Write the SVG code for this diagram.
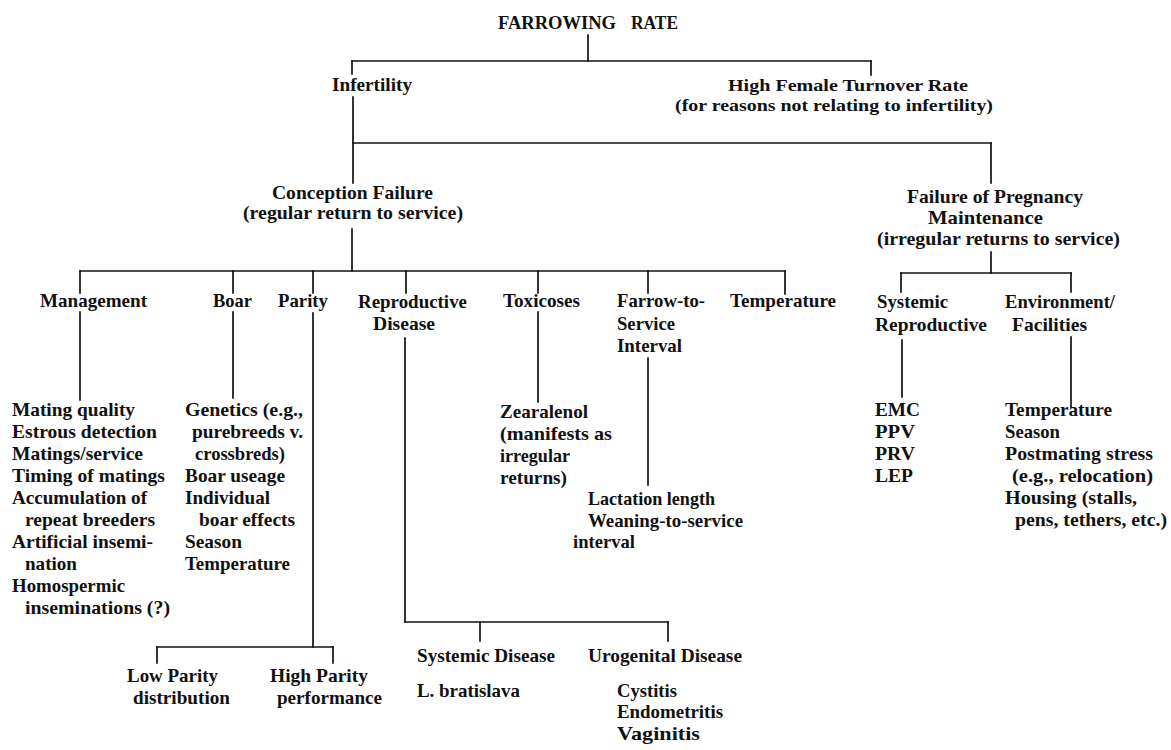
<svg xmlns="http://www.w3.org/2000/svg" width="1171" height="750" viewBox="0 0 1171 750">
<style>
text{font-family:"Liberation Serif","Times New Roman",serif;font-size:19px;font-weight:bold;fill:#111}
.h{font-size:19px}
.s{font-size:17px}
#connectors line{stroke:#111;stroke-width:1.7;stroke-linecap:square}
</style>
<rect width="1171" height="750" fill="#fff"/>
<g id="connectors">
<line x1="588" y1="35" x2="588" y2="61"/>
<line x1="352" y1="61" x2="871" y2="61"/>
<line x1="352" y1="61" x2="352" y2="74"/>
<line x1="871" y1="61" x2="871" y2="75"/>
<line x1="353" y1="97" x2="353" y2="183"/>
<line x1="353" y1="143" x2="991" y2="143"/>
<line x1="991" y1="143" x2="991" y2="183"/>
<line x1="352" y1="229" x2="352" y2="271"/>
<line x1="80" y1="271" x2="785" y2="271"/>
<line x1="80" y1="271" x2="80" y2="293"/>
<line x1="80" y1="312" x2="80" y2="400"/>
<line x1="233" y1="271" x2="233" y2="293"/>
<line x1="233" y1="312" x2="233" y2="398"/>
<line x1="313" y1="271" x2="313" y2="293"/>
<line x1="313" y1="313" x2="313" y2="647"/>
<line x1="406" y1="271" x2="406" y2="293"/>
<line x1="405" y1="338" x2="405" y2="622"/>
<line x1="538" y1="271" x2="538" y2="293"/>
<line x1="538" y1="312" x2="538" y2="402"/>
<line x1="648" y1="271" x2="648" y2="293"/>
<line x1="648" y1="358" x2="648" y2="485"/>
<line x1="785" y1="271" x2="785" y2="294"/>
<line x1="157" y1="647" x2="333" y2="647"/>
<line x1="157" y1="647" x2="157" y2="663"/>
<line x1="333" y1="647" x2="333" y2="663"/>
<line x1="405" y1="622" x2="668" y2="622"/>
<line x1="480" y1="622" x2="480" y2="641"/>
<line x1="668" y1="622" x2="668" y2="641"/>
<line x1="991" y1="252" x2="991" y2="273"/>
<line x1="901" y1="273" x2="1071" y2="273"/>
<line x1="901" y1="273" x2="901" y2="292"/>
<line x1="1071" y1="273" x2="1071" y2="292"/>
<line x1="902" y1="340" x2="902" y2="397"/>
<line x1="1071" y1="337" x2="1071" y2="407"/>
</g>
<g id="farrowing-rate">
<text class="h" x="498" y="29" textLength="118" lengthAdjust="spacingAndGlyphs">FARROWING</text>
<text class="h" x="631" y="29" textLength="47" lengthAdjust="spacingAndGlyphs">RATE</text>
</g>
<g id="infertility"><text x="332" y="91" textLength="80" lengthAdjust="spacingAndGlyphs">Infertility</text></g>
<g id="high-female-turnover">
<text class="s" x="728" y="91" textLength="240" lengthAdjust="spacingAndGlyphs">High Female Turnover Rate</text>
<text class="s" x="675" y="111" textLength="318" lengthAdjust="spacingAndGlyphs">(for reasons not relating to infertility)</text>
</g>
<g id="conception-failure">
<text x="272" y="199" textLength="161" lengthAdjust="spacingAndGlyphs">Conception Failure</text>
<text x="243" y="219" textLength="220" lengthAdjust="spacingAndGlyphs">(regular return to service)</text>
</g>
<g id="failure-pregnancy">
<text x="907" y="203" textLength="176" lengthAdjust="spacingAndGlyphs">Failure of Pregnancy</text>
<text x="928" y="224" textLength="115" lengthAdjust="spacingAndGlyphs">Maintenance</text>
<text x="877" y="245" textLength="243" lengthAdjust="spacingAndGlyphs">(irregular returns to service)</text>
</g>
<g id="management">
<text x="40" y="307" textLength="107" lengthAdjust="spacingAndGlyphs">Management</text>
</g>
<g id="management-list">
<text x="12" y="416" textLength="123" lengthAdjust="spacingAndGlyphs">Mating quality</text>
<text x="12" y="438" textLength="145" lengthAdjust="spacingAndGlyphs">Estrous detection</text>
<text x="12" y="460" textLength="131" lengthAdjust="spacingAndGlyphs">Matings/service</text>
<text x="12" y="482" textLength="153" lengthAdjust="spacingAndGlyphs">Timing of matings</text>
<text x="12" y="504" textLength="135" lengthAdjust="spacingAndGlyphs">Accumulation of</text>
<text x="25" y="526" textLength="130" lengthAdjust="spacingAndGlyphs">repeat breeders</text>
<text x="12" y="548" textLength="141" lengthAdjust="spacingAndGlyphs">Artificial insemi-</text>
<text x="25" y="570" textLength="52" lengthAdjust="spacingAndGlyphs">nation</text>
<text x="12" y="592" textLength="113" lengthAdjust="spacingAndGlyphs">Homospermic</text>
<text x="25" y="614" textLength="145" lengthAdjust="spacingAndGlyphs">inseminations (?)</text>
</g>
<g id="boar"><text x="213" y="307" textLength="39" lengthAdjust="spacingAndGlyphs">Boar</text></g>
<g id="boar-list">
<text x="185" y="416" textLength="118" lengthAdjust="spacingAndGlyphs">Genetics (e.g.,</text>
<text x="192" y="438" textLength="111" lengthAdjust="spacingAndGlyphs">purebreeds v.</text>
<text x="195" y="460" textLength="90" lengthAdjust="spacingAndGlyphs">crossbreds)</text>
<text x="185" y="482" textLength="100" lengthAdjust="spacingAndGlyphs">Boar useage</text>
<text x="185" y="504" textLength="85" lengthAdjust="spacingAndGlyphs">Individual</text>
<text x="199" y="526" textLength="96" lengthAdjust="spacingAndGlyphs">boar effects</text>
<text x="185" y="548" textLength="57" lengthAdjust="spacingAndGlyphs">Season</text>
<text x="185" y="570" textLength="105" lengthAdjust="spacingAndGlyphs">Temperature</text>
</g>
<g id="parity"><text x="278" y="307" textLength="50" lengthAdjust="spacingAndGlyphs">Parity</text></g>
<g id="low-parity">
<text x="127" y="682" textLength="91" lengthAdjust="spacingAndGlyphs">Low Parity</text>
<text x="133" y="704" textLength="97" lengthAdjust="spacingAndGlyphs">distribution</text>
</g>
<g id="high-parity">
<text x="270" y="682" textLength="98" lengthAdjust="spacingAndGlyphs">High Parity</text>
<text x="277" y="704" textLength="105" lengthAdjust="spacingAndGlyphs">performance</text>
</g>
<g id="reproductive-disease">
<text x="358" y="308" textLength="109" lengthAdjust="spacingAndGlyphs">Reproductive</text>
<text x="373" y="330" textLength="62" lengthAdjust="spacingAndGlyphs">Disease</text>
</g>
<g id="systemic-disease">
<text x="417" y="662" textLength="138" lengthAdjust="spacingAndGlyphs">Systemic Disease</text>
<text x="417" y="697" textLength="103" lengthAdjust="spacingAndGlyphs">L. bratislava</text>
</g>
<g id="urogenital-disease">
<text x="588" y="662" textLength="154" lengthAdjust="spacingAndGlyphs">Urogenital Disease</text>
<text x="617" y="697" textLength="60" lengthAdjust="spacingAndGlyphs">Cystitis</text>
<text x="617" y="718" textLength="106" lengthAdjust="spacingAndGlyphs">Endometritis</text>
<text x="617" y="740" textLength="83" lengthAdjust="spacingAndGlyphs">Vaginitis</text>
</g>
<g id="toxicoses">
<text x="503" y="307" textLength="77" lengthAdjust="spacingAndGlyphs">Toxicoses</text>
</g>
<g id="zearalenol">
<text x="500" y="418" textLength="88" lengthAdjust="spacingAndGlyphs">Zearalenol</text>
<text x="500" y="440" textLength="112" lengthAdjust="spacingAndGlyphs">(manifests as</text>
<text x="500" y="462" textLength="70" lengthAdjust="spacingAndGlyphs">irregular</text>
<text x="500" y="484" textLength="67" lengthAdjust="spacingAndGlyphs">returns)</text>
</g>
<g id="farrow-to-service">
<text x="617" y="307" textLength="88" lengthAdjust="spacingAndGlyphs">Farrow-to-</text>
<text x="617" y="330" textLength="58" lengthAdjust="spacingAndGlyphs">Service</text>
<text x="617" y="352" textLength="65" lengthAdjust="spacingAndGlyphs">Interval</text>
</g>
<g id="farrow-list">
<text x="588" y="505" textLength="127" lengthAdjust="spacingAndGlyphs">Lactation length</text>
<text x="588" y="527" textLength="155" lengthAdjust="spacingAndGlyphs">Weaning-to-service</text>
<text x="573" y="548" textLength="62" lengthAdjust="spacingAndGlyphs">interval</text>
</g>
<g id="temperature"><text x="730" y="307" textLength="106" lengthAdjust="spacingAndGlyphs">Temperature</text></g>
<g id="systemic-reproductive">
<text x="877" y="308" textLength="71" lengthAdjust="spacingAndGlyphs">Systemic</text>
<text x="875" y="331" textLength="112" lengthAdjust="spacingAndGlyphs">Reproductive</text>
</g>
<g id="systemic-list">
<text x="875" y="416" textLength="45" lengthAdjust="spacingAndGlyphs">EMC</text>
<text x="875" y="438" textLength="40" lengthAdjust="spacingAndGlyphs">PPV</text>
<text x="875" y="460" textLength="40" lengthAdjust="spacingAndGlyphs">PRV</text>
<text x="875" y="482" textLength="38" lengthAdjust="spacingAndGlyphs">LEP</text>
</g>
<g id="environment-facilities">
<text x="1005" y="308" textLength="110" lengthAdjust="spacingAndGlyphs">Environment/</text>
<text x="1012" y="331" textLength="75" lengthAdjust="spacingAndGlyphs">Facilities</text>
</g>
<g id="environment-list">
<text x="1005" y="416" textLength="107" lengthAdjust="spacingAndGlyphs">Temperature</text>
<text x="1005" y="438" textLength="55" lengthAdjust="spacingAndGlyphs">Season</text>
<text x="1005" y="460" textLength="148" lengthAdjust="spacingAndGlyphs">Postmating stress</text>
<text x="1012" y="482" textLength="141" lengthAdjust="spacingAndGlyphs">(e.g., relocation)</text>
<text x="1005" y="504" textLength="132" lengthAdjust="spacingAndGlyphs">Housing (stalls,</text>
<text x="1015" y="526" textLength="152" lengthAdjust="spacingAndGlyphs">pens, tethers, etc.)</text>
</g>
</svg>
